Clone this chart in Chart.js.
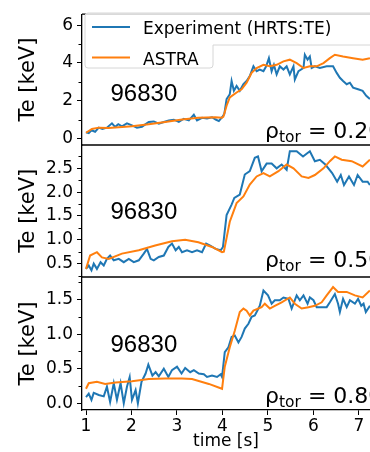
<!DOCTYPE html>
<html>
<head>
<meta charset="utf-8">
<script src="https://cdn.jsdelivr.net/npm/chart.js@4/dist/chart.umd.min.js"></script>
<style>
  html, body { margin: 0; padding: 0; background: #fff; overflow: hidden; }
  #wrap { position: relative; width: 370px; height: 452px; }
  #wrap canvas { position: absolute; left: 0; top: 0; }
</style>
</head>
<body>
<div id="wrap">
  <canvas id="c1" width="370" height="452"></canvas>
  <canvas id="c2" width="370" height="452"></canvas>
  <canvas id="c3" width="370" height="452"></canvas>
</div>
<script>
// ---------------- data ----------------
const shotLabel = "96830";
const seriesNames = ["Experiment (HRTS:TE)", "ASTRA"];
const rhoLabels = ["0.20", "0.50", "0.80"];
const xTicks = [1, 2, 3, 4, 5, 6, 7];

// rho_tor = 0.20
const tExp20 = [1.00,1.06,1.12,1.20,1.28,1.36,1.46,1.57,1.64,1.71,1.79,1.90,2.01,2.12,2.23,2.38,2.49,2.60,2.71,2.82,2.93,3.04,3.15,3.26,3.37,3.44,3.55,3.66,3.77,3.85,3.92,4.00,4.04,4.09,4.16,4.20,4.25,4.31,4.38,4.46,4.53,4.60,4.68,4.75,4.82,4.90,4.96,5.02,5.08,5.13,5.19,5.26,5.34,5.41,5.48,5.56,5.59,5.67,5.78,5.81,5.87,5.92,5.96,6.03,6.14,6.29,6.43,6.51,6.58,6.65,6.73,6.80,6.87,6.98,7.08,7.16,7.24];
const teExp20 = [0.32,0.28,0.43,0.35,0.57,0.50,0.57,0.80,0.61,0.75,0.64,0.80,0.69,0.57,0.62,0.87,0.90,0.78,0.87,0.95,0.99,0.87,1.04,0.95,1.25,0.95,1.09,1.05,1.12,1.00,0.92,1.15,1.30,2.08,2.34,3.04,2.52,2.78,2.52,2.87,3.04,3.30,3.82,3.56,3.65,3.56,3.82,4.25,3.56,3.90,3.39,3.82,3.65,3.82,3.39,3.82,3.12,3.56,3.73,4.43,4.17,4.34,3.73,3.82,3.73,3.82,3.82,3.47,3.21,3.04,2.87,2.95,2.69,2.60,2.52,2.26,2.08];
const tSim20 = [1.00,1.13,1.28,1.50,2.01,2.38,2.74,3.11,3.47,3.84,3.99,4.02,4.09,4.16,4.31,4.42,4.53,4.64,4.75,4.90,5.04,5.19,5.34,5.48,5.63,5.78,5.92,6.07,6.22,6.36,6.47,6.65,6.87,7.08,7.24];
const teSim20 = [0.30,0.50,0.57,0.55,0.64,0.75,0.87,1.00,1.09,1.12,1.10,1.15,1.73,2.17,2.43,2.60,2.95,3.47,3.73,3.90,3.82,3.90,4.08,4.17,3.99,3.73,3.82,3.82,3.99,4.25,4.43,4.34,4.25,4.17,4.25];

// rho_tor = 0.50
const tExp50 = [1.00,1.06,1.12,1.17,1.24,1.32,1.39,1.46,1.53,1.61,1.72,1.83,1.94,2.05,2.16,2.27,2.34,2.42,2.49,2.60,2.71,2.81,2.89,2.97,3.04,3.11,3.22,3.33,3.44,3.55,3.64,3.73,3.85,3.96,4.01,4.09,4.20,4.26,4.38,4.49,4.60,4.71,4.78,4.86,4.97,5.08,5.19,5.30,5.41,5.48,5.63,5.77,5.92,6.03,6.14,6.26,6.41,6.52,6.60,6.67,6.78,6.89,6.97,7.08,7.19,7.24];
const teExp50 = [0.39,0.46,0.36,0.50,0.39,0.53,0.46,0.60,0.67,0.57,0.60,0.53,0.60,0.53,0.57,0.71,0.81,0.60,0.57,0.64,0.67,0.85,0.92,0.78,0.85,0.74,0.78,0.74,0.78,0.74,0.92,0.88,0.81,0.78,0.85,1.52,1.74,1.88,1.95,2.37,2.44,2.72,2.75,2.44,2.60,2.60,2.50,2.58,2.47,2.86,2.86,2.75,2.86,2.65,2.68,2.58,2.40,2.22,2.36,2.15,2.33,2.15,2.36,2.22,2.22,2.15];
const tSim50 = [1.00,1.09,1.24,1.35,1.50,1.79,2.16,2.52,2.89,3.18,3.47,3.77,3.99,4.03,4.16,4.31,4.46,4.60,4.75,4.90,5.04,5.23,5.41,5.56,5.74,5.89,6.03,6.22,6.36,6.47,6.62,6.84,7.08,7.24];
const teSim50 = [0.39,0.67,0.74,0.63,0.60,0.71,0.78,0.88,0.97,1.00,0.95,0.85,0.74,0.75,1.38,1.77,1.91,2.16,2.33,2.40,2.33,2.44,2.58,2.50,2.33,2.30,2.36,2.50,2.65,2.75,2.68,2.65,2.54,2.68];

// rho_tor = 0.80
const tExp80 = [1.00,1.06,1.12,1.17,1.28,1.39,1.46,1.53,1.61,1.68,1.76,1.83,1.90,1.96,2.01,2.09,2.14,2.22,2.31,2.37,2.46,2.53,2.60,2.71,2.81,2.89,3.00,3.10,3.18,3.29,3.37,3.48,3.59,3.66,3.77,3.88,3.96,3.99,4.05,4.13,4.20,4.27,4.35,4.42,4.49,4.57,4.64,4.71,4.79,4.82,4.90,5.00,5.08,5.15,5.26,5.34,5.45,5.52,5.63,5.70,5.78,5.87,5.92,6.00,6.07,6.29,6.36,6.47,6.54,6.58,6.65,6.73,6.80,6.91,6.98,7.05,7.10,7.15,7.24];
const teExp80 = [0.09,0.14,0.05,0.15,0.12,0.10,0.24,0.02,0.29,0.05,0.29,0.00,0.24,0.38,0.05,0.19,0.00,0.31,0.43,0.56,0.40,0.45,0.39,0.50,0.38,0.48,0.53,0.43,0.51,0.45,0.48,0.43,0.42,0.38,0.40,0.38,0.42,0.38,0.74,0.81,0.96,0.98,0.88,0.96,1.08,1.15,1.25,1.27,1.37,1.41,1.63,1.56,1.44,1.49,1.49,1.53,1.51,1.37,1.56,1.49,1.56,1.44,1.53,1.49,1.39,1.39,1.46,1.58,1.44,1.32,1.51,1.39,1.49,1.44,1.51,1.41,1.44,1.32,1.41];
const tSim80 = [1.00,1.06,1.24,1.42,1.65,2.01,2.38,2.74,3.11,3.33,3.70,3.99,4.05,4.16,4.27,4.38,4.46,4.53,4.60,4.68,4.86,4.93,5.04,5.15,5.30,5.48,5.59,5.74,5.89,6.03,6.18,6.29,6.43,6.54,6.73,6.91,7.08,7.24];
const teSim80 = [0.21,0.29,0.31,0.28,0.30,0.32,0.35,0.36,0.36,0.35,0.28,0.21,0.53,0.81,1.05,1.32,1.37,1.34,1.27,1.34,1.39,1.44,1.37,1.41,1.46,1.53,1.44,1.37,1.39,1.41,1.46,1.56,1.68,1.61,1.61,1.56,1.53,1.63];

// y ticks (major / minor)
const yMajor20 = [0, 2, 4, 6];
const yMinor20 = [1, 3, 5];
const yMajor50 = [0.5, 1.0, 1.5, 2.0, 2.5];
const yMinor50 = [0.25, 0.75, 1.25, 1.75, 2.25, 2.75];
const yMajor80 = [0.0, 0.5, 1.0, 1.5];
const yMinor80 = [0.25, 0.75, 1.25, 1.75];

// ---------------- styling ----------------
const BLUE = '#1f77b4', ORANGE = '#ff7f0e';
const TICK_FONT = {family: 'DejaVu Sans', size: 17};
const XMIN = 0.912, XMAX = 7.242;

function pts(t, v) { return t.map((x, i) => ({x: x, y: v[i]})); }

const decoPlugin = {
  id: 'deco',
  afterDraw(chart, args, o) {
    const ctx = chart.ctx, a = chart.chartArea, ys = chart.scales.y;
    ctx.save();
    // top frame line
    ctx.strokeStyle = '#000'; ctx.lineWidth = 1.3;
    ctx.beginPath(); ctx.moveTo(a.left, a.top); ctx.lineTo(a.right, a.top); ctx.stroke();
    // minor ticks
    ctx.lineWidth = 1;
    o.minor.forEach(v => {
      const y = Math.round(ys.getPixelForValue(v)) + 0.5;
      ctx.beginPath(); ctx.moveTo(a.left - 3.5, y); ctx.lineTo(a.left, y); ctx.stroke();
    });
    // shot number
    ctx.fillStyle = '#000';
    ctx.textBaseline = 'alphabetic'; ctx.textAlign = 'left';
    ctx.font = '24px "Liberation Sans"';
    ctx.fillText(shotLabel, 110.5, o.shotY);
    // rho_tor label
    let x = 265;
    ctx.font = '22px "DejaVu Sans"';
    ctx.fillText('ρ', x, o.rhoY); x += ctx.measureText('ρ').width;
    ctx.font = '15.5px "DejaVu Sans"';
    ctx.fillText('tor', x, o.rhoY + 4); x += ctx.measureText('tor').width;
    ctx.font = '22px "DejaVu Sans"';
    ctx.fillText(' = ' + o.rho, x, o.rhoY);
    // legend
    if (o.legend) {
      const L = 85, T = 13, R = 380, B1 = 45, B2 = 68, N = 213, r = 3;
      ctx.beginPath();
      ctx.moveTo(L + r, T);
      ctx.lineTo(R, T);
      ctx.lineTo(R, B1);
      ctx.lineTo(N, B1);
      ctx.lineTo(N, B2 - r); ctx.quadraticCurveTo(N, B2, N - r, B2);
      ctx.lineTo(L + r, B2); ctx.quadraticCurveTo(L, B2, L, B2 - r);
      ctx.lineTo(L, T + r); ctx.quadraticCurveTo(L, T, L + r, T);
      ctx.closePath();
      ctx.fillStyle = 'rgba(255,255,255,0.8)'; ctx.fill();
      ctx.strokeStyle = '#d6d6d6'; ctx.lineWidth = 1; ctx.stroke();
      ctx.lineWidth = 2.2;
      ctx.strokeStyle = BLUE;
      ctx.beginPath(); ctx.moveTo(92, 27); ctx.lineTo(130, 27); ctx.stroke();
      ctx.strokeStyle = ORANGE;
      ctx.beginPath(); ctx.moveTo(92, 57.5); ctx.lineTo(130, 57.5); ctx.stroke();
      ctx.fillStyle = '#000';
      ctx.font = '17px "DejaVu Sans"';
      ctx.fillText(seriesNames[0], 143, 33.5);
      ctx.fillText(seriesNames[1], 143, 65);
    }
    ctx.restore();
  }
};

function makeChart(id, cfg) {
  const showX = !!cfg.showX;
  return new Chart(document.getElementById(id), {
    type: 'line',
    data: {
      datasets: [
        {label: seriesNames[0], data: pts(cfg.tE, cfg.vE), borderColor: BLUE, backgroundColor: BLUE, order: 1},
        {label: seriesNames[1], data: pts(cfg.tS, cfg.vS), borderColor: ORANGE, backgroundColor: ORANGE, order: 0}
      ]
    },
    options: {
      responsive: false, animation: false, devicePixelRatio: 1,
      layout: {padding: {top: cfg.top, bottom: cfg.bottom, left: 0, right: 0}},
      elements: {point: {radius: 0}, line: {borderWidth: 2, tension: 0}},
      plugins: {
        legend: {display: false}, tooltip: {enabled: false},
        deco: {minor: cfg.minor, shotY: cfg.shotY, rhoY: cfg.rhoY, rho: cfg.rho, legend: !!cfg.legend}
      },
      scales: {
        x: {
          type: 'linear', min: XMIN, max: XMAX, display: showX,
          afterBuildTicks: s => { s.ticks = xTicks.map(v => ({value: v})); },
          afterFit: s => { if (showX) s.height = 42; },
          ticks: {font: TICK_FONT, color: '#000', padding: 1, maxRotation: 0, autoSkip: false},
          grid: {display: true, drawOnChartArea: false, tickLength: 5, color: '#000', tickWidth: 1},
          border: {display: true, color: '#000', width: 1.3},
          title: {display: true, text: 'time [s]', font: {family: 'DejaVu Sans', size: 17}, color: '#000', padding: 0}
        },
        y: {
          type: 'linear', min: cfg.ymin, max: cfg.ymax,
          afterBuildTicks: s => { s.ticks = cfg.major.map(v => ({value: v})); },
          afterFit: s => { s.width = 82; },
          ticks: {font: TICK_FONT, color: '#000', padding: 4,
                  callback: v => cfg.dec ? v.toFixed(1) : String(v)},
          grid: {display: true, drawOnChartArea: false, tickLength: 5, color: '#000', tickWidth: 1},
          border: {display: true, color: '#000', width: 1.3},
          title: {display: true, text: 'Te [keV]', font: {family: 'DejaVu Sans', size: 21}, color: '#000', padding: {top: 16, bottom: 0}}
        }
      }
    },
    plugins: [decoPlugin]
  });
}

makeChart('c1', {tE: tExp20, vE: teExp20, tS: tSim20, vS: teSim20, ymin: -0.35, ymax: 6.58,
  major: yMajor20, minor: yMinor20, dec: false, top: 12, bottom: 452 - 145,
  shotY: 100.7, rhoY: 138.3, rho: rhoLabels[0], legend: true});
makeChart('c2', {tE: tExp50, vE: teExp50, tS: tSim50, vS: teSim50, ymin: 0.23, ymax: 2.99,
  major: yMajor50, minor: yMinor50, dec: true, top: 145, bottom: 452 - 276.5,
  shotY: 219.3, rhoY: 266.7, rho: rhoLabels[1]});
makeChart('c3', {tE: tExp80, vE: teExp80, tS: tSim80, vS: teSim80, ymin: -0.097, ymax: 1.826,
  major: yMajor80, minor: yMinor80, dec: true, top: 277, bottom: 0, showX: true,
  shotY: 351.7, rhoY: 403.3, rho: rhoLabels[2]});
</script>
</body>
</html>
